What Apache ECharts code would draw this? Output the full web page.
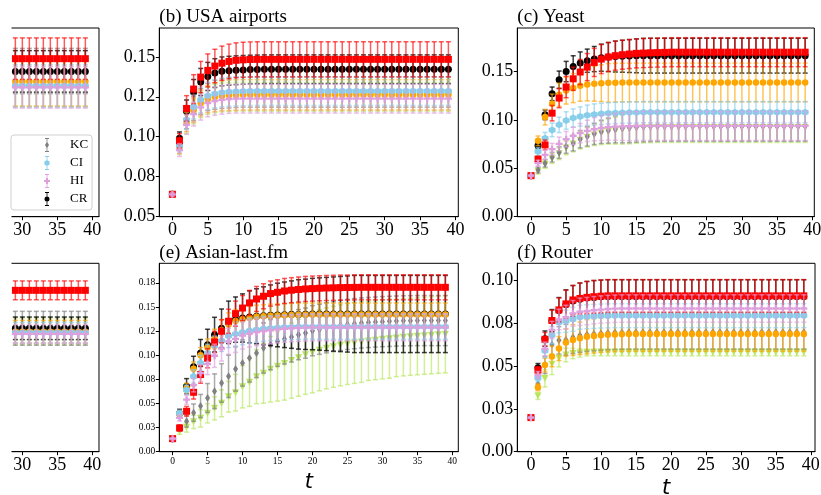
<!DOCTYPE html>
<html>
<head>
<meta charset="utf-8">
<script src="https://cdn.jsdelivr.net/npm/echarts@6/dist/echarts.min.js"></script>
<style>
  html, body { margin: 0; padding: 0; background: #fff; }
  #chart { width: 821px; height: 495px; }
</style>
</head>
<body>
<div id="chart"></div>
<script>
// time steps
const T = [0,1,2,3,4,5,6,7,8,9,10,11,12,13,14,15,16,17,18,19,
  20,21,22,23,24,25,26,27,28,29,30,31,32,33,34,35,36,37,38,39];
// the cut-off left panels only show the tail of the run
const T_TAIL = [29,30,31,32,33,34,35,36,37,38,39];

// ---- (a) partial panel, tail only ----
const aRed = [0.1675,0.1675,0.1675,0.1675,0.1675,0.1675,0.1675,0.1675,0.1675,0.1675,0.1675];
const aRedErr = [0.022,0.022,0.022,0.022,0.022,0.022,0.022,0.022,0.022,0.022,0.022];
const aBlack = [0.154,0.154,0.154,0.154,0.154,0.154,0.154,0.154,0.154,0.154,0.154];
const aBlackErr = [0.022,0.022,0.022,0.022,0.022,0.022,0.022,0.022,0.022,0.022,0.022];
const aGray = [0.1544,0.1544,0.1544,0.1544,0.1544,0.1544,0.1544,0.1544,0.1544,0.1544,0.1544];
const aGrayErr = [0.024,0.024,0.024,0.024,0.024,0.024,0.024,0.024,0.024,0.024,0.024];
const aOrange = [0.1431,0.1431,0.1431,0.1431,0.1431,0.1431,0.1431,0.1431,0.1431,0.1431,0.1431];
const aOrangeErr = [0.026,0.026,0.026,0.026,0.026,0.026,0.026,0.026,0.026,0.026,0.026];
const aSky = [0.1385,0.1385,0.1385,0.1385,0.1385,0.1385,0.1385,0.1385,0.1385,0.1385,0.1385];
const aSkyErr = [0.0225,0.0225,0.0225,0.0225,0.0225,0.0225,0.0225,0.0225,0.0225,0.0225,0.0225];
const aPlum = [0.1371,0.1371,0.1371,0.1371,0.1371,0.1371,0.1371,0.1371,0.1371,0.1371,0.1371];
const aPlumErr = [0.022,0.022,0.022,0.022,0.022,0.022,0.022,0.022,0.022,0.022,0.022];
const aYg = [0.141,0.141,0.141,0.141,0.141,0.141,0.141,0.141,0.141,0.141,0.141];
const aYgErr = [0.024,0.024,0.024,0.024,0.024,0.024,0.024,0.024,0.024,0.024,0.024];

// ---- (b) USA airports ----
const bRed = [0.064,0.0975,0.1177,0.1298,0.1373,0.1415,0.1442,0.146,0.1471,0.1478,
  0.1481,0.1483,0.1484,0.1484,0.1484,0.1484,0.1484,0.1484,0.1484,0.1484,
  0.1484,0.1484,0.1484,0.1484,0.1484,0.1484,0.1484,0.1484,0.1484,0.1484,
  0.1484,0.1484,0.1484,0.1484,0.1484,0.1484,0.1484,0.1484,0.1484,0.1484];
const bRedErr = [0.001,0.0045,0.008,0.009,0.0098,0.0103,0.0105,0.0107,0.0108,0.0109,
  0.011,0.011,0.011,0.011,0.011,0.011,0.011,0.011,0.011,0.011,
  0.011,0.011,0.011,0.011,0.011,0.011,0.011,0.011,0.011,0.011,
  0.011,0.011,0.011,0.011,0.011,0.011,0.011,0.011,0.011,0.011];
const bBlack = [0.064,0.099,0.116,0.1278,0.1342,0.1377,0.1398,0.1409,0.1413,0.1416,
  0.1418,0.142,0.1421,0.1422,0.1422,0.1422,0.1422,0.1422,0.1422,0.1422,
  0.1422,0.1422,0.1422,0.1422,0.1422,0.1422,0.1422,0.1422,0.1422,0.1422,
  0.1422,0.1422,0.1422,0.1422,0.1422,0.1422,0.1422,0.1422,0.1422,0.1422];
const bBlackErr = [0.001,0.004,0.007,0.008,0.0085,0.0088,0.009,0.009,0.009,0.009,
  0.009,0.009,0.009,0.009,0.009,0.009,0.009,0.009,0.009,0.009,
  0.009,0.009,0.009,0.009,0.009,0.009,0.009,0.009,0.009,0.009,
  0.009,0.009,0.009,0.009,0.009,0.009,0.009,0.009,0.009,0.009];
const bSky = [0.064,0.0944,0.1106,0.1186,0.1231,0.1256,0.1269,0.1277,0.1281,0.1283,
  0.1285,0.1286,0.1286,0.1286,0.1286,0.1286,0.1286,0.1286,0.1286,0.1286,
  0.1286,0.1286,0.1286,0.1286,0.1286,0.1286,0.1286,0.1286,0.1286,0.1286,
  0.1286,0.1286,0.1286,0.1286,0.1286,0.1286,0.1286,0.1286,0.1286,0.1286];
const bSkyErr = [0.001,0.004,0.006,0.0075,0.008,0.0085,0.0088,0.009,0.009,0.009,
  0.009,0.009,0.009,0.009,0.009,0.009,0.009,0.009,0.009,0.009,
  0.009,0.009,0.009,0.009,0.009,0.009,0.009,0.009,0.009,0.009,
  0.009,0.009,0.009,0.009,0.009,0.009,0.009,0.009,0.009,0.009];
const bPlum = [0.064,0.0917,0.1075,0.1142,0.1184,0.121,0.1223,0.1231,0.1236,0.1238,
  0.1238,0.1238,0.1238,0.1238,0.1238,0.1238,0.1238,0.1238,0.1238,0.1238,
  0.1238,0.1238,0.1238,0.1238,0.1238,0.1238,0.1238,0.1238,0.1238,0.1238,
  0.1238,0.1238,0.1238,0.1238,0.1238,0.1238,0.1238,0.1238,0.1238,0.1238];
const bPlumErr = [0.001,0.004,0.006,0.0075,0.008,0.0085,0.0088,0.009,0.009,0.009,
  0.009,0.009,0.009,0.009,0.009,0.009,0.009,0.009,0.009,0.009,
  0.009,0.009,0.009,0.009,0.009,0.009,0.009,0.009,0.009,0.009,
  0.009,0.009,0.009,0.009,0.009,0.009,0.009,0.009,0.009,0.009];
const bOrange = [0.064,0.0935,0.1092,0.1165,0.121,0.1235,0.1248,0.1255,0.1259,0.1261,
  0.1262,0.1262,0.1262,0.1262,0.1262,0.1262,0.1262,0.1262,0.1262,0.1262,
  0.1262,0.1262,0.1262,0.1262,0.1262,0.1262,0.1262,0.1262,0.1262,0.1262,
  0.1262,0.1262,0.1262,0.1262,0.1262,0.1262,0.1262,0.1262,0.1262,0.1262];
const bOrangeErr = [0.001,0.004,0.006,0.0075,0.008,0.0085,0.009,0.0093,0.0095,0.0095,
  0.0095,0.0095,0.0095,0.0095,0.0095,0.0095,0.0095,0.0095,0.0095,0.0095,
  0.0095,0.0095,0.0095,0.0095,0.0095,0.0095,0.0095,0.0095,0.0095,0.0095,
  0.0095,0.0095,0.0095,0.0095,0.0095,0.0095,0.0095,0.0095,0.0095,0.0095];
const bGray = [0.064,0.096,0.111,0.1175,0.122,0.1248,0.1262,0.127,0.1275,0.1278,
  0.128,0.128,0.128,0.128,0.128,0.128,0.128,0.128,0.128,0.128,
  0.128,0.128,0.128,0.128,0.128,0.128,0.128,0.128,0.128,0.128,
  0.128,0.128,0.128,0.128,0.128,0.128,0.128,0.128,0.128,0.128];
const bGrayErr = [0.001,0.004,0.006,0.0075,0.008,0.0085,0.009,0.0093,0.0095,0.0095,
  0.0095,0.0095,0.0095,0.0095,0.0095,0.0095,0.0095,0.0095,0.0095,0.0095,
  0.0095,0.0095,0.0095,0.0095,0.0095,0.0095,0.0095,0.0095,0.0095,0.0095,
  0.0095,0.0095,0.0095,0.0095,0.0095,0.0095,0.0095,0.0095,0.0095,0.0095];
const bYg = [0.064,0.093,0.108,0.1155,0.12,0.1225,0.1238,0.1245,0.1248,0.125,
  0.125,0.125,0.125,0.125,0.125,0.125,0.125,0.125,0.125,0.125,
  0.125,0.125,0.125,0.125,0.125,0.125,0.125,0.125,0.125,0.125,
  0.125,0.125,0.125,0.125,0.125,0.125,0.125,0.125,0.125,0.125];
const bYgErr = [0.001,0.004,0.006,0.0075,0.008,0.0085,0.0088,0.009,0.009,0.009,
  0.009,0.009,0.009,0.009,0.009,0.009,0.009,0.009,0.009,0.009,
  0.009,0.009,0.009,0.009,0.009,0.009,0.009,0.009,0.009,0.009,
  0.009,0.009,0.009,0.009,0.009,0.009,0.009,0.009,0.009,0.009];

// ---- (c) Yeast ----
const cRed = [0.0424,0.0594,0.0742,0.107,0.1226,0.134,0.1425,0.1495,0.1546,0.1594,
  0.1629,0.165,0.1664,0.1674,0.1681,0.1688,0.1691,0.1694,0.1696,0.1698,
  0.17,0.17,0.17,0.17,0.17,0.17,0.17,0.17,0.17,0.17,
  0.17,0.17,0.17,0.17,0.17,0.17,0.17,0.17,0.17,0.17];
const cRedErr = [0.001,0.003,0.005,0.008,0.01,0.011,0.012,0.013,0.014,0.0145,
  0.015,0.015,0.015,0.015,0.015,0.015,0.015,0.015,0.015,0.015,
  0.015,0.015,0.015,0.015,0.015,0.015,0.015,0.015,0.015,0.015,
  0.015,0.015,0.015,0.015,0.015,0.015,0.015,0.015,0.015,0.015];
const cBlack = [0.0424,0.0735,0.1053,0.127,0.1415,0.15,0.1553,0.1588,0.1612,0.1629,
  0.1643,0.165,0.1655,0.1658,0.166,0.1662,0.1663,0.1664,0.1664,0.1664,
  0.1664,0.1664,0.1664,0.1664,0.1664,0.1664,0.1664,0.1664,0.1664,0.1664,
  0.1664,0.1664,0.1664,0.1664,0.1664,0.1664,0.1664,0.1664,0.1664,0.1664];
const cBlackErr = [0.001,0.003,0.005,0.007,0.009,0.0105,0.011,0.0115,0.012,0.013,
  0.014,0.015,0.016,0.0165,0.017,0.0175,0.018,0.018,0.018,0.018,
  0.018,0.018,0.018,0.018,0.018,0.018,0.018,0.018,0.018,0.018,
  0.018,0.018,0.018,0.018,0.018,0.018,0.018,0.018,0.018,0.018];
const cOrange = [0.0424,0.0784,0.1029,0.1167,0.126,0.1304,0.1329,0.1353,0.1367,0.1374,
  0.138,0.1383,0.1385,0.1386,0.1387,0.1387,0.1387,0.1387,0.1387,0.1387,
  0.1387,0.1387,0.1387,0.1387,0.1387,0.1387,0.1387,0.1387,0.1387,0.1387,
  0.1387,0.1387,0.1387,0.1387,0.1387,0.1387,0.1387,0.1387,0.1387,0.1387];
const cOrangeErr = [0.001,0.005,0.008,0.01,0.012,0.014,0.015,0.016,0.017,0.018,
  0.019,0.02,0.02,0.02,0.02,0.02,0.02,0.02,0.02,0.02,
  0.02,0.02,0.02,0.02,0.02,0.02,0.02,0.02,0.02,0.02,
  0.02,0.02,0.02,0.02,0.02,0.02,0.02,0.02,0.02,0.02];
const cSky = [0.0424,0.0673,0.0811,0.0897,0.0949,0.0994,0.1019,0.1035,0.1049,0.1056,
  0.1063,0.1068,0.1072,0.1075,0.1077,0.1078,0.108,0.108,0.108,0.108,
  0.108,0.108,0.108,0.108,0.108,0.108,0.108,0.108,0.108,0.108,
  0.108,0.108,0.108,0.108,0.108,0.108,0.108,0.108,0.108,0.108];
const cSkyErr = [0.001,0.004,0.006,0.007,0.008,0.009,0.0095,0.01,0.0105,0.011,
  0.011,0.011,0.011,0.011,0.011,0.011,0.011,0.011,0.011,0.011,
  0.011,0.011,0.011,0.011,0.011,0.011,0.011,0.011,0.011,0.011,
  0.011,0.011,0.011,0.011,0.011,0.011,0.011,0.011,0.011,0.011];
const cPlum = [0.0424,0.0553,0.0639,0.0698,0.0753,0.0801,0.0835,0.0863,0.0887,0.0904,
  0.0918,0.0925,0.093,0.0933,0.0935,0.0937,0.0938,0.0938,0.0938,0.0938,
  0.0938,0.0938,0.0938,0.0938,0.0938,0.0938,0.0938,0.0938,0.0938,0.0938,
  0.0938,0.0938,0.0938,0.0938,0.0938,0.0938,0.0938,0.0938,0.0938,0.0938];
const cPlumErr = [0.001,0.003,0.005,0.006,0.007,0.008,0.009,0.01,0.011,0.012,
  0.013,0.0135,0.014,0.0145,0.015,0.015,0.015,0.015,0.015,0.015,
  0.015,0.015,0.015,0.015,0.015,0.015,0.015,0.015,0.015,0.015,
  0.015,0.015,0.015,0.015,0.015,0.015,0.015,0.015,0.015,0.015];
const cGray = [0.0424,0.0483,0.0553,0.0615,0.0663,0.0725,0.076,0.0801,0.083,0.0856,
  0.0877,0.089,0.0903,0.0913,0.092,0.0925,0.0929,0.0932,0.0934,0.0935,
  0.0935,0.0935,0.0935,0.0935,0.0935,0.0935,0.0935,0.0935,0.0935,0.0935,
  0.0935,0.0935,0.0935,0.0935,0.0935,0.0935,0.0935,0.0935,0.0935,0.0935];
const cGrayErr = [0.001,0.003,0.004,0.005,0.006,0.007,0.008,0.009,0.01,0.011,
  0.012,0.013,0.014,0.015,0.0155,0.0155,0.0155,0.0155,0.0155,0.0155,
  0.0155,0.0155,0.0155,0.0155,0.0155,0.0155,0.0155,0.0155,0.0155,0.0155,
  0.0155,0.0155,0.0155,0.0155,0.0155,0.0155,0.0155,0.0155,0.0155,0.0155];
const cYg = [0.0424,0.047,0.054,0.06,0.065,0.071,0.075,0.079,0.082,0.0845,
  0.0865,0.088,0.089,0.09,0.0908,0.0913,0.0917,0.092,0.0922,0.0922,
  0.0922,0.0922,0.0922,0.0922,0.0922,0.0922,0.0922,0.0922,0.0922,0.0922,
  0.0922,0.0922,0.0922,0.0922,0.0922,0.0922,0.0922,0.0922,0.0922,0.0922];
const cYgErr = [0.001,0.003,0.004,0.005,0.006,0.007,0.008,0.009,0.01,0.011,
  0.012,0.013,0.014,0.015,0.0155,0.0155,0.0155,0.0155,0.0155,0.0155,
  0.0155,0.0155,0.0155,0.0155,0.0155,0.0155,0.0155,0.0155,0.0155,0.0155,
  0.0155,0.0155,0.0155,0.0155,0.0155,0.0155,0.0155,0.0155,0.0155,0.0155];

// ---- (d) partial panel, tail only ----
const dRed = [0.1713,0.1713,0.1713,0.1713,0.1713,0.1713,0.1713,0.1713,0.1713,0.1713,0.1713];
const dRedErr = [0.01,0.01,0.01,0.01,0.01,0.01,0.01,0.01,0.01,0.01,0.01];
const dBlack = [0.131,0.131,0.131,0.131,0.131,0.131,0.131,0.131,0.131,0.131,0.131];
const dBlackErr = [0.012,0.012,0.012,0.012,0.012,0.012,0.012,0.012,0.012,0.012,0.012];
const dGray = [0.131,0.131,0.131,0.131,0.131,0.131,0.131,0.131,0.131,0.131,0.131];
const dGrayErr = [0.018,0.018,0.018,0.018,0.018,0.018,0.018,0.018,0.018,0.018,0.018];
const dOrange = [0.1274,0.1274,0.1274,0.1274,0.1274,0.1274,0.1274,0.1274,0.1274,0.1274,0.1274];
const dOrangeErr = [0.012,0.012,0.012,0.012,0.012,0.012,0.012,0.012,0.012,0.012,0.012];
const dSky = [0.1263,0.1263,0.1263,0.1263,0.1263,0.1263,0.1263,0.1263,0.1263,0.1263,0.1263];
const dSkyErr = [0.011,0.011,0.011,0.011,0.011,0.011,0.011,0.011,0.011,0.011,0.011];
const dPlum = [0.125,0.125,0.125,0.125,0.125,0.125,0.125,0.125,0.125,0.125,0.125];
const dPlumErr = [0.01,0.01,0.01,0.01,0.01,0.01,0.01,0.01,0.01,0.01,0.01];
const dYg = [0.128,0.128,0.128,0.128,0.128,0.128,0.128,0.128,0.128,0.128,0.128];
const dYgErr = [0.014,0.014,0.014,0.014,0.014,0.014,0.014,0.014,0.014,0.014,0.014];

// ---- (e) Asian-last.fm ----
const eRed = [0.0135,0.0246,0.0419,0.0616,0.08,0.097,0.1138,0.1249,0.1353,0.1432,
  0.149,0.1543,0.1584,0.1612,0.164,0.1653,0.1667,0.1675,0.1682,0.1688,
  0.1692,0.1695,0.1698,0.17,0.1702,0.1703,0.1704,0.1705,0.1705,0.1705,
  0.1705,0.1705,0.1705,0.1705,0.1705,0.1705,0.1705,0.1705,0.1705,0.1705];
const eRedErr = [0.001,0.003,0.005,0.007,0.009,0.01,0.011,0.012,0.0125,0.013,
  0.013,0.013,0.013,0.013,0.013,0.013,0.013,0.013,0.013,0.013,
  0.013,0.013,0.013,0.013,0.013,0.013,0.013,0.013,0.013,0.013,
  0.013,0.013,0.013,0.013,0.013,0.013,0.013,0.013,0.013,0.013];
const eBlack = [0.0135,0.04,0.0678,0.088,0.1024,0.111,0.1214,0.128,0.1342,0.137,
  0.1387,0.1398,0.1405,0.141,0.1415,0.1418,0.142,0.1422,0.1424,0.1425,
  0.1428,0.1428,0.1428,0.1428,0.1428,0.1428,0.1428,0.1428,0.1428,0.1428,
  0.1428,0.1428,0.1428,0.1428,0.1428,0.1428,0.1428,0.1428,0.1428,0.1428];
const eBlackErr = [0.001,0.004,0.008,0.011,0.014,0.016,0.018,0.02,0.022,0.0235,
  0.025,0.027,0.0285,0.03,0.0315,0.033,0.034,0.035,0.036,0.0365,
  0.037,0.0375,0.038,0.0385,0.039,0.0395,0.04,0.04,0.04,0.04,
  0.04,0.04,0.04,0.04,0.04,0.04,0.04,0.04,0.04,0.04];
const eOrange = [0.0135,0.039,0.066,0.086,0.1,0.108,0.117,0.126,0.132,0.1355,
  0.1375,0.139,0.14,0.1405,0.141,0.1413,0.1416,0.1418,0.142,0.1421,
  0.1422,0.1422,0.1422,0.1422,0.1422,0.1422,0.1422,0.1422,0.1422,0.1422,
  0.1422,0.1422,0.1422,0.1422,0.1422,0.1422,0.1422,0.1422,0.1422,0.1422];
const eOrangeErr = [0.001,0.003,0.005,0.007,0.008,0.009,0.01,0.011,0.012,0.012,
  0.012,0.012,0.012,0.012,0.012,0.012,0.012,0.012,0.012,0.012,
  0.012,0.012,0.012,0.012,0.012,0.012,0.012,0.012,0.012,0.012,
  0.012,0.012,0.012,0.012,0.012,0.012,0.012,0.012,0.012,0.012];
const eSky = [0.0135,0.04,0.064,0.078,0.092,0.1024,0.11,0.115,0.12,0.122,
  0.124,0.1255,0.1265,0.1275,0.128,0.1285,0.129,0.1293,0.1295,0.1297,
  0.1297,0.1297,0.1297,0.1297,0.1297,0.1297,0.1297,0.1297,0.1297,0.1297,
  0.1297,0.1297,0.1297,0.1297,0.1297,0.1297,0.1297,0.1297,0.1297,0.1297];
const eSkyErr = [0.001,0.003,0.005,0.007,0.008,0.009,0.01,0.011,0.012,0.0125,
  0.013,0.013,0.013,0.013,0.013,0.013,0.013,0.013,0.013,0.013,
  0.013,0.013,0.013,0.013,0.013,0.013,0.013,0.013,0.013,0.013,
  0.013,0.013,0.013,0.013,0.013,0.013,0.013,0.013,0.013,0.013];
const ePlum = [0.0135,0.035,0.054,0.069,0.0816,0.091,0.0995,0.107,0.1145,0.117,
  0.1205,0.1225,0.124,0.125,0.126,0.1268,0.1275,0.128,0.1284,0.1287,
  0.129,0.129,0.129,0.129,0.129,0.129,0.129,0.129,0.129,0.129,
  0.129,0.129,0.129,0.129,0.129,0.129,0.129,0.129,0.129,0.129];
const ePlumErr = [0.001,0.003,0.005,0.007,0.009,0.011,0.012,0.013,0.0135,0.014,
  0.014,0.014,0.014,0.014,0.014,0.014,0.014,0.014,0.014,0.014,
  0.014,0.014,0.014,0.014,0.014,0.014,0.014,0.014,0.014,0.014,
  0.014,0.014,0.014,0.014,0.014,0.014,0.014,0.014,0.014,0.014];
const eGray = [0.0135,0.0246,0.0315,0.0405,0.0474,0.0557,0.0627,0.0713,0.0782,0.0858,
  0.092,0.0972,0.1024,0.1076,0.111,0.1145,0.1169,0.119,0.1214,0.123,
  0.1255,0.127,0.1285,0.1298,0.131,0.132,0.1328,0.1335,0.134,0.1345,
  0.1349,0.1352,0.1355,0.1357,0.1359,0.136,0.136,0.136,0.136,0.136];
const eGrayErr = [0.001,0.003,0.006,0.009,0.012,0.015,0.018,0.02,0.022,0.023,
  0.024,0.025,0.0255,0.026,0.026,0.026,0.026,0.026,0.026,0.026,
  0.026,0.026,0.026,0.026,0.026,0.026,0.026,0.026,0.026,0.026,
  0.026,0.026,0.026,0.026,0.026,0.026,0.026,0.026,0.026,0.026];
const eYg = [0.0135,0.021,0.0253,0.031,0.0346,0.0398,0.045,0.0502,0.057,0.0612,
  0.0674,0.072,0.0778,0.0813,0.0855,0.0885,0.0915,0.0945,0.0975,0.1005,
  0.103,0.1052,0.1072,0.1088,0.1103,0.1117,0.1128,0.1139,0.1149,0.1157,
  0.1165,0.1172,0.1179,0.1186,0.1192,0.1198,0.1203,0.1208,0.1213,0.1218];
const eYgErr = [0.001,0.003,0.005,0.007,0.009,0.01,0.012,0.014,0.016,0.019,
  0.022,0.025,0.028,0.031,0.034,0.036,0.038,0.039,0.04,0.041,
  0.042,0.042,0.042,0.042,0.042,0.042,0.042,0.042,0.041,0.041,
  0.041,0.041,0.04,0.04,0.04,0.04,0.04,0.04,0.04,0.04];

// ---- (f) Router ----
const fRed = [0.0199,0.0477,0.0656,0.0766,0.0828,0.0863,0.0886,0.0895,0.0901,0.0905,
  0.0908,0.091,0.091,0.091,0.091,0.091,0.091,0.091,0.091,0.091,
  0.091,0.091,0.091,0.091,0.091,0.091,0.091,0.091,0.091,0.091,
  0.091,0.091,0.091,0.091,0.091,0.091,0.091,0.091,0.091,0.091];
const fRedErr = [0.0005,0.002,0.004,0.006,0.007,0.008,0.0085,0.009,0.0093,0.0095,
  0.0095,0.0095,0.0095,0.0095,0.0095,0.0095,0.0095,0.0095,0.0095,0.0095,
  0.0095,0.0095,0.0095,0.0095,0.0095,0.0095,0.0095,0.0095,0.0095,0.0095,
  0.0095,0.0095,0.0095,0.0095,0.0095,0.0095,0.0095,0.0095,0.0095,0.0095];
const fBlack = [0.0199,0.049,0.066,0.0765,0.0825,0.086,0.088,0.089,0.0897,0.0901,
  0.0904,0.0906,0.0906,0.0906,0.0906,0.0906,0.0906,0.0906,0.0906,0.0906,
  0.0906,0.0906,0.0906,0.0906,0.0906,0.0906,0.0906,0.0906,0.0906,0.0906,
  0.0906,0.0906,0.0906,0.0906,0.0906,0.0906,0.0906,0.0906,0.0906,0.0906];
const fBlackErr = [0.0005,0.0025,0.0045,0.0065,0.0075,0.0085,0.009,0.0095,0.0097,0.0098,
  0.0098,0.0098,0.0098,0.0098,0.0098,0.0098,0.0098,0.0098,0.0098,0.0098,
  0.0098,0.0098,0.0098,0.0098,0.0098,0.0098,0.0098,0.0098,0.0098,0.0098,
  0.0098,0.0098,0.0098,0.0098,0.0098,0.0098,0.0098,0.0098,0.0098,0.0098];
const fPlum = [0.0199,0.0448,0.06,0.0711,0.0772,0.0785,0.0808,0.0817,0.0821,0.0826,
  0.083,0.0833,0.0835,0.0836,0.0836,0.0836,0.0836,0.0836,0.0836,0.0836,
  0.0836,0.0836,0.0836,0.0836,0.0836,0.0836,0.0836,0.0836,0.0836,0.0836,
  0.0836,0.0836,0.0836,0.0836,0.0836,0.0836,0.0836,0.0836,0.0836,0.0836];
const fPlumErr = [0.0005,0.002,0.004,0.005,0.006,0.007,0.0075,0.008,0.008,0.008,
  0.008,0.008,0.008,0.008,0.008,0.008,0.008,0.008,0.008,0.008,
  0.008,0.008,0.008,0.008,0.008,0.008,0.008,0.008,0.008,0.008,
  0.008,0.008,0.008,0.008,0.008,0.008,0.008,0.008,0.008,0.008];
const fSky = [0.0199,0.043,0.059,0.068,0.0754,0.0762,0.0773,0.0785,0.0788,0.079,
  0.0792,0.0793,0.0794,0.0794,0.0794,0.0794,0.0794,0.0794,0.0794,0.0794,
  0.0794,0.0794,0.0794,0.0794,0.0794,0.0794,0.0794,0.0794,0.0794,0.0794,
  0.0794,0.0794,0.0794,0.0794,0.0794,0.0794,0.0794,0.0794,0.0794,0.0794];
const fSkyErr = [0.0005,0.002,0.004,0.005,0.006,0.0065,0.007,0.007,0.007,0.007,
  0.007,0.007,0.007,0.007,0.007,0.007,0.007,0.007,0.007,0.007,
  0.007,0.007,0.007,0.007,0.007,0.007,0.007,0.007,0.007,0.007,
  0.007,0.007,0.007,0.007,0.007,0.007,0.007,0.007,0.007,0.007];
const fGray = [0.0199,0.0395,0.0506,0.0626,0.065,0.0653,0.0668,0.068,0.0685,0.0689,
  0.0692,0.0695,0.0697,0.0698,0.0699,0.0699,0.0699,0.0699,0.0699,0.0699,
  0.0699,0.0699,0.0699,0.0699,0.0699,0.0699,0.0699,0.0699,0.0699,0.0699,
  0.0699,0.0699,0.0699,0.0699,0.0699,0.0699,0.0699,0.0699,0.0699,0.0699];
const fGrayErr = [0.0005,0.003,0.005,0.007,0.008,0.009,0.0095,0.01,0.01,0.01,
  0.01,0.01,0.01,0.01,0.01,0.01,0.01,0.01,0.01,0.01,
  0.01,0.01,0.01,0.01,0.01,0.01,0.01,0.01,0.01,0.01,
  0.01,0.01,0.01,0.01,0.01,0.01,0.01,0.01,0.01,0.01];
const fOrange = [0.0199,0.0376,0.0506,0.0556,0.0602,0.0638,0.0652,0.0662,0.0671,0.0676,
  0.068,0.0683,0.0685,0.0686,0.0687,0.0687,0.0687,0.0687,0.0687,0.0687,
  0.0687,0.0687,0.0687,0.0687,0.0687,0.0687,0.0687,0.0687,0.0687,0.0687,
  0.0687,0.0687,0.0687,0.0687,0.0687,0.0687,0.0687,0.0687,0.0687,0.0687];
const fOrangeErr = [0.0005,0.002,0.004,0.006,0.007,0.008,0.009,0.0095,0.01,0.01,
  0.01,0.01,0.01,0.01,0.01,0.01,0.01,0.01,0.01,0.01,
  0.01,0.01,0.01,0.01,0.01,0.01,0.01,0.01,0.01,0.01,
  0.01,0.01,0.01,0.01,0.01,0.01,0.01,0.01,0.01,0.01];
const fYg = [0.0199,0.0325,0.0428,0.051,0.0545,0.0565,0.0573,0.0577,0.0579,0.058,
  0.058,0.058,0.058,0.058,0.058,0.058,0.058,0.058,0.058,0.058,
  0.058,0.058,0.058,0.058,0.058,0.058,0.058,0.058,0.058,0.058,
  0.058,0.058,0.058,0.058,0.058,0.058,0.058,0.058,0.058,0.058];
const fYgErr = [0.0005,0.002,0.005,0.006,0.005,0.004,0.003,0.0025,0.002,0.002,
  0.002,0.002,0.002,0.002,0.002,0.002,0.002,0.002,0.002,0.002,
  0.002,0.002,0.002,0.002,0.002,0.002,0.002,0.002,0.002,0.002,
  0.002,0.002,0.002,0.002,0.002,0.002,0.002,0.002,0.002,0.002];

// tick positions and the labels matplotlib printed for them
const X_TICKS = [0,5,10,15,20,25,30,35,40];
const X_TICKS_TAIL = [30,35,40];
const bYTicks = [0.05,0.075,0.1,0.125,0.15];
const bYLabels = ['0.05','0.08','0.10','0.12','0.15'];
const cYTicks = [0,0.05,0.1,0.15];
const cYLabels = ['0.00','0.05','0.10','0.15'];
const eYTicks = [0,0.025,0.05,0.075,0.1,0.125,0.15,0.175];
const eYLabels = ['0.00','0.03','0.05','0.08','0.10','0.12','0.15','0.18'];
const fYTicks = [0,0.025,0.05,0.075,0.1];
const fYLabels = ['0.00','0.03','0.05','0.08','0.10'];

const SERIF = 'Liberation Serif, Times New Roman, serif';
const HEX = 'path://M4,0L7.46,2L7.46,6L4,8L0.54,6L0.54,2Z';
const PLUS = 'path://M2,0H4V2H6V4H4V6H2V4H0V2H2Z';

// drawn bottom -> top
const METHODS = [
  { key: 'yg', name: 'm-yg', color: '#b9e65f', symbol: 'triangle', rotate: 180, size: 7 },
  { key: 'gray', name: 'KC', color: '#808080', symbol: 'diamond', size: [5, 8] },
  { key: 'black', name: 'CR', color: '#000000', symbol: 'circle', size: 7 },
  { key: 'orange', name: 'm-orange', color: '#ffa500', symbol: 'circle', size: 6.5 },
  { key: 'sky', name: 'CI', color: '#87ceeb', symbol: HEX, size: 7 },
  { key: 'red', name: 'm-red', color: '#ff0000', symbol: 'rect', size: 7 },
  { key: 'plum', name: 'HI', color: '#dda0dd', symbol: PLUS, size: 7 },
];

const PANELS = [
  { grid: { left: -201.3, top: 28, width: 300.3, height: 188.7 },
    x: [-1.95, 40.95], y: [0, 0.2], t: T_TAIL, xTicks: X_TICKS_TAIL, font: 18,
    data: { red: [aRed, aRedErr], black: [aBlack, aBlackErr], gray: [aGray, aGrayErr],
      orange: [aOrange, aOrangeErr], sky: [aSky, aSkyErr], plum: [aPlum, aPlumErr], yg: [aYg, aYgErr] } },
  { title: '(b) USA airports', grid: { left: 159.3, top: 28, width: 299, height: 188.7 },
    x: [-1.85, 40.4], y: [0.05, 0.168], t: T, xTicks: X_TICKS, yTicks: bYTicks, yLabels: bYLabels, font: 18,
    data: { red: [bRed, bRedErr], black: [bBlack, bBlackErr], gray: [bGray, bGrayErr],
      orange: [bOrange, bOrangeErr], sky: [bSky, bSkyErr], plum: [bPlum, bPlumErr], yg: [bYg, bYgErr] } },
  { title: '(c) Yeast', grid: { left: 517.3, top: 28, width: 297, height: 188.7 },
    x: [-1.95, 40.3], y: [0, 0.195], t: T, xTicks: X_TICKS, yTicks: cYTicks, yLabels: cYLabels, font: 18,
    data: { red: [cRed, cRedErr], black: [cBlack, cBlackErr], gray: [cGray, cGrayErr],
      orange: [cOrange, cOrangeErr], sky: [cSky, cSkyErr], plum: [cPlum, cPlumErr], yg: [cYg, cYgErr] } },
  { grid: { left: -201.3, top: 263.3, width: 300.3, height: 188.4 },
    x: [-1.95, 40.95], y: [0, 0.2], t: T_TAIL, xTicks: X_TICKS_TAIL, font: 18,
    data: { red: [dRed, dRedErr], black: [dBlack, dBlackErr], gray: [dGray, dGrayErr],
      orange: [dOrange, dOrangeErr], sky: [dSky, dSkyErr], plum: [dPlum, dPlumErr], yg: [dYg, dYgErr] } },
  { title: '(e) Asian-last.fm', grid: { left: 159.3, top: 263.3, width: 299, height: 188.4 },
    x: [-1.9, 40.85], y: [0, 0.1954], t: T, xTicks: X_TICKS, yTicks: eYTicks, yLabels: eYLabels, font: 9.5,
    xName: 't', nameGap: 20,
    data: { red: [eRed, eRedErr], black: [eBlack, eBlackErr], gray: [eGray, eGrayErr],
      orange: [eOrange, eOrangeErr], sky: [eSky, eSkyErr], plum: [ePlum, ePlumErr], yg: [eYg, eYgErr] } },
  { title: '(f) Router', grid: { left: 517.3, top: 263.3, width: 297.7, height: 188.4 },
    x: [-1.95, 40.6], y: [0, 0.11], t: T, xTicks: X_TICKS, yTicks: fYTicks, yLabels: fYLabels, font: 18,
    xName: 't', nameGap: 26,
    data: { red: [fRed, fRedErr], black: [fBlack, fBlackErr], gray: [fGray, fGrayErr],
      orange: [fOrange, fOrangeErr], sky: [fSky, fSkyErr], plum: [fPlum, fPlumErr], yg: [fYg, fYgErr] } },
];

function tickLabel(ticks, labels) {
  return (v) => {
    if (!ticks) return '';
    const k = ticks.findIndex((u) => Math.abs(u - v) < 1e-9);
    return k >= 0 ? labels[k] : '';
  };
}

function errorBars(color, opacity) {
  return (params, api) => {
    const x = api.value(0), m = api.value(1), e = api.value(2);
    const hi = api.coord([x, m + e]);
    const lo = api.coord([x, m - e]);
    const s = { stroke: color, lineWidth: 1.5, opacity: opacity };
    return {
      type: 'group',
      children: [
        { type: 'line', shape: { x1: hi[0], y1: hi[1], x2: lo[0], y2: lo[1] }, style: s },
        { type: 'line', shape: { x1: hi[0] - 2.5, y1: hi[1], x2: hi[0] + 2.5, y2: hi[1] }, style: s },
        { type: 'line', shape: { x1: lo[0] - 2.5, y1: lo[1], x2: lo[0] + 2.5, y2: lo[1] }, style: s },
      ],
    };
  };
}

const black = { color: '#000', width: 1 };
const grids = [], xAxes = [], yAxes = [], series = [], titles = [];

PANELS.forEach((p, i) => {
  grids.push(Object.assign({
    show: true, borderColor: '#000', borderWidth: 1,
    containLabel: false, outerBoundsMode: 'none',
  }, p.grid));
  xAxes.push({
    type: 'value', gridIndex: i, min: p.x[0], max: p.x[1],
    axisLine: { show: true, onZero: false, lineStyle: black },
    axisTick: { show: true, length: 3.5, customValues: p.xTicks, lineStyle: black },
    axisLabel: { customValues: p.xTicks, fontFamily: SERIF, fontSize: p.font, color: '#000', margin: 5 },
    splitLine: { show: false },
    name: p.xName || '', nameLocation: 'middle', nameGap: p.nameGap || 20,
    nameTextStyle: { fontFamily: 'DejaVu Sans', fontStyle: 'italic', fontSize: 21, color: '#000' },
  });
  yAxes.push({
    type: 'value', gridIndex: i, min: p.y[0], max: p.y[1],
    axisLine: { show: true, onZero: false, lineStyle: black },
    axisTick: { show: !!p.yTicks, length: 3.5, customValues: p.yTicks || [], lineStyle: black },
    axisLabel: {
      show: !!p.yTicks, customValues: p.yTicks || [], formatter: tickLabel(p.yTicks, p.yLabels),
      fontFamily: SERIF, fontSize: p.font, color: '#000', margin: 4,
    },
    splitLine: { show: false },
  });
  if (p.title) {
    titles.push({
      text: p.title, left: p.grid.left, top: p.grid.top - 20, padding: 0,
      textStyle: { fontFamily: SERIF, fontSize: 19, fontWeight: 'normal', color: '#000' },
    });
  }
  METHODS.forEach((m, k) => {
    const means = p.data[m.key][0], errs = p.data[m.key][1];
    series.push({
      type: 'custom', name: m.name, xAxisIndex: i, yAxisIndex: i,
      z: 10 + 2 * k, silent: true, animation: false,
      renderItem: errorBars(m.color, m.key === 'black' ? 0.75 : 0.65),
      data: p.t.map((t, j) => [t, means[j], errs[j]]),
    });
    series.push({
      type: 'scatter', name: m.name, xAxisIndex: i, yAxisIndex: i,
      z: 11 + 2 * k, silent: true, animation: false,
      symbol: m.symbol, symbolSize: m.size, symbolRotate: m.rotate || 0,
      itemStyle: { color: m.color, opacity: 1 },
      data: p.t.map((t, j) => [t, means[j]]),
    });
  });
});

const BAR = 'M3.6,1.5h0.8v13h-0.8Z M2,1h4v1h-4Z M2,14h4v1h-4Z ';
const legendItems = [
  { name: 'KC', icon: 'path://' + BAR + 'M4,4.5L6,8L4,11.5L2,8Z', itemStyle: { color: '#808080' } },
  { name: 'CI', icon: 'path://' + BAR + 'M4,5L6.6,6.5V9.5L4,11L1.4,9.5V6.5Z', itemStyle: { color: '#87ceeb' } },
  { name: 'HI', icon: 'path://' + BAR + 'M3,5h2v2h2v2h-2v2h-2v-2h-2v-2h2Z', itemStyle: { color: '#dda0dd' } },
  { name: 'CR', icon: 'path://' + BAR + 'M1.5,8A2.5,2.5,0,1,1,6.5,8A2.5,2.5,0,1,1,1.5,8Z', itemStyle: { color: '#000000' } },
];

const chart = echarts.init(document.getElementById('chart'), null, { renderer: 'canvas' });
chart.setOption({
  animation: false,
  backgroundColor: '#fff',
  title: titles,
  grid: grids,
  xAxis: xAxes,
  yAxis: yAxes,
  series: series,
  // the figure was cropped on the left: blank strip over the cut panels
  graphic: [{ type: 'rect', left: 0, top: 0, z: 40, silent: true,
    shape: { width: 11.5, height: 495 }, style: { fill: '#fff' } }],
  legend: {
    data: legendItems, orient: 'vertical', left: 11, top: 135,
    padding: [3, 4, 4, 33], itemGap: 4, itemWidth: 36, itemHeight: 14,
    backgroundColor: '#fff', borderColor: '#d0d0d0', borderWidth: 1, borderRadius: 3,
    selectedMode: false, z: 50,
    textStyle: { fontFamily: SERIF, fontSize: 13, color: '#000' },
  },
});
</script>
</body>
</html>
